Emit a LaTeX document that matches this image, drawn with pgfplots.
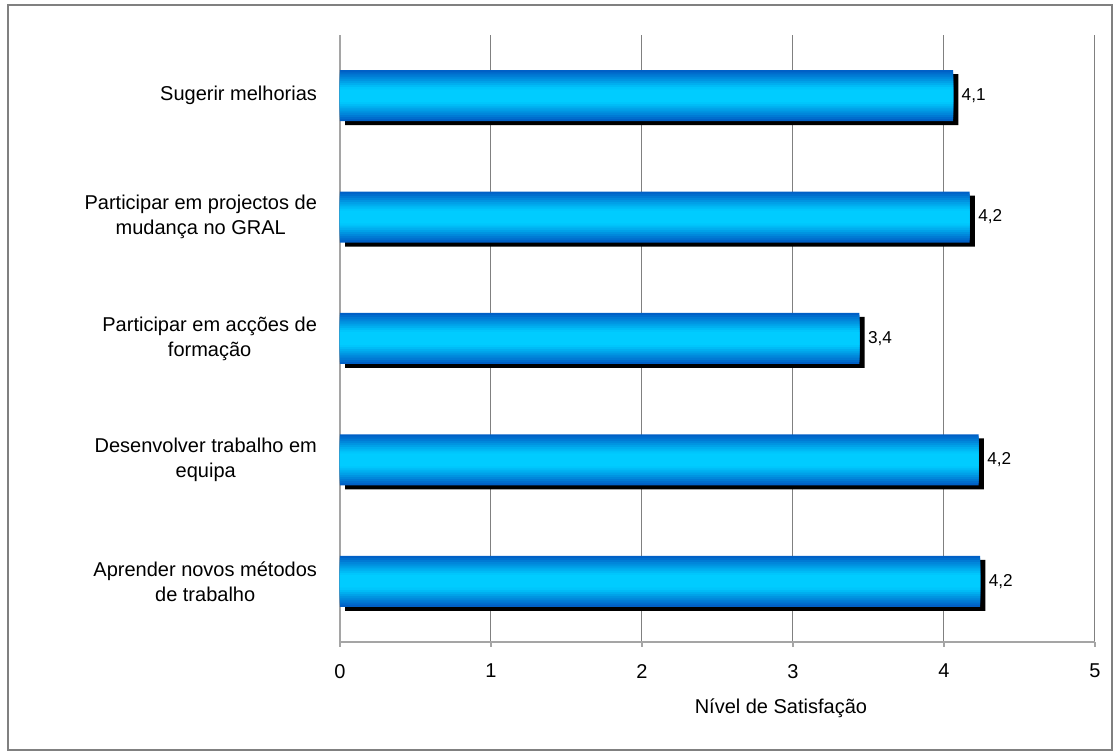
\documentclass[border=0pt]{standalone}
\usepackage{fontspec}
\setmainfont{Liberation Sans}
\usepackage{pgfplots}
\usepackage{pgfplotstable}
\pgfplotsset{compat=1.18}
\definecolor{bardark}{RGB}{0,96,198}
\definecolor{barlight}{RGB}{0,204,255}
\definecolor{gridc}{RGB}{128,128,128}
\definecolor{axisc}{RGB}{165,165,165}
\pgfplotstableread{
x y
4.24 0
4.23 1
3.44 2
4.17 3
4.06 4
}\bardata
\begin{document}
\begin{tikzpicture}
\useasboundingbox (-170pt,-56pt) rectangle (387.5pt,321pt);
\draw[gridc, line width=0.6pt] (-166pt,-54pt) rectangle (386pt,318.5pt);
\begin{axis}[
  at={(0pt,0pt)}, anchor=south west,
  scale only axis, width=377.5pt, height=303.5pt,
  xmin=0, xmax=5, ymin=-0.5, ymax=4.5,
  axis lines*=left,
  axis line style={axisc, line width=0.8pt},
  xtick={0,1,2,3,4,5},
  xmajorgrids, major grid style={gridc, line width=0.5pt},
  tick align=outside,
  major tick length=2.5pt,
  minor tick length=2.5pt,
  every tick/.style={axisc, line width=0.6pt},
  ytick={0,1,2,3,4},
  yticklabels={{Aprender novos métodos\\de trabalho},{Desenvolver trabalho em\\equipa},{Participar em acções de\\formação},{Participar em projectos de\\mudança no GRAL},{Sugerir melhorias}},
  minor ytick={-0.5,0.5,1.5,2.5,3.5,4.5},
  ytick style={draw=none},
  minor tick style={axisc, line width=0.6pt},
  yticklabel style={align=center, font=\fontsize{10}{12.5}\selectfont, xshift=-5.5pt},
  xticklabel style={font=\fontsize{10}{12}\selectfont, yshift=-5pt},
  /pgf/number format/assume math mode=true,
  xlabel={Nível de Satisfação},
  every axis x label/.style={at={(axis description cs:0.584,0)}, anchor=center, yshift=-33pt, font=\fontsize{10}{12}\selectfont},
  clip=false,
  xbar, bar shift=0pt,
  every axis plot/.append style={draw=none},
]
% shadow
\addplot[xbar, bar shift=0pt, fill=black, bar width=25.5pt, xshift=2.6pt, yshift=-2pt] table[x=x,y=y] {\bardata};
% gradient bands
\addplot[xbar, bar shift=0pt, fill=bardark, bar width=25.5pt] table[x=x,y=y] {\bardata};
\addplot[xbar, bar shift=0pt, fill=barlight!12!bardark, bar width=23.4pt] table[x=x,y=y] {\bardata};
\addplot[xbar, bar shift=0pt, fill=barlight!24!bardark, bar width=21.3pt] table[x=x,y=y] {\bardata};
\addplot[xbar, bar shift=0pt, fill=barlight!36!bardark, bar width=19.1pt] table[x=x,y=y] {\bardata};
\addplot[xbar, bar shift=0pt, fill=barlight!48!bardark, bar width=17.0pt] table[x=x,y=y] {\bardata};
\addplot[xbar, bar shift=0pt, fill=barlight!60!bardark, bar width=14.9pt] table[x=x,y=y] {\bardata};
\addplot[xbar, bar shift=0pt, fill=barlight!72!bardark, bar width=12.8pt] table[x=x,y=y] {\bardata};
\addplot[xbar, bar shift=0pt, fill=barlight!84!bardark, bar width=10.6pt] table[x=x,y=y] {\bardata};
\addplot[xbar, bar shift=0pt, fill=barlight!94!bardark, bar width=8.5pt] table[x=x,y=y] {\bardata};
\addplot[xbar, bar shift=0pt, fill=barlight, bar width=6.4pt,
  nodes near coords, point meta=x,
  every node near coord/.append style={font=\fontsize{8.6}{10}\selectfont, black, anchor=west, xshift=0.8pt,
     /pgf/number format/.cd, use comma, fixed, fixed zerofill, precision=1}] table[x=x,y=y] {\bardata};
\end{axis}
\end{tikzpicture}
\end{document}
